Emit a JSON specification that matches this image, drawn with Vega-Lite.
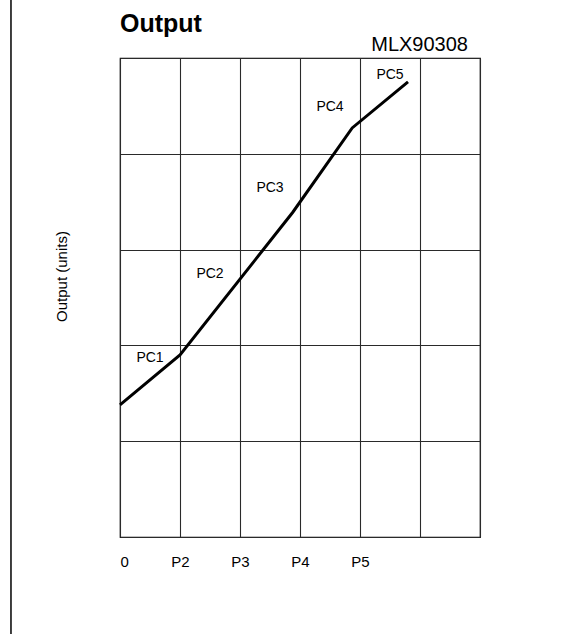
{
  "$schema": "https://vega.github.io/schema/vega-lite/v6.json",
  "width": 360,
  "height": 479,
  "autosize": {"type": "none"},
  "padding": {"left": 120, "top": 58, "right": 104, "bottom": 97},
  "background": "white",
  "config": {
    "font": "Liberation Sans",
    "view": {"stroke": "#000000", "strokeWidth": 1.2},
    "axis": {"gridColor": "#2a2a2a", "gridOpacity": 1, "gridWidth": 1.1}
  },
  "datasets": {
    "curve": [
      {"x": 0, "y": 1.38},
      {"x": 1, "y": 1.9},
      {"x": 2.88, "y": 3.39},
      {"x": 3.87, "y": 4.27},
      {"x": 4.8, "y": 4.75}
    ],
    "labels": [
      {"x": 0.5, "y": 1.87, "label": "PC1"},
      {"x": 1.5, "y": 2.75, "label": "PC2"},
      {"x": 2.5, "y": 3.64, "label": "PC3"},
      {"x": 3.5, "y": 4.49, "label": "PC4"},
      {"x": 4.5, "y": 4.82, "label": "PC5"}
    ],
    "header": [
      {"x": 5.8, "y": 5.073, "label": "MLX90308"}
    ],
    "heading": [
      {"x": 0, "y": 5.271, "label": "Output"}
    ],
    "border": [
      {"x": -1.817, "y": 5.7, "y2": -1.1}
    ]
  },
  "layer": [
    {
      "data": {"name": "curve"},
      "mark": {"type": "line", "color": "#000000", "strokeWidth": 3, "strokeJoin": "miter"},
      "encoding": {
        "x": {
          "field": "x", "type": "quantitative",
          "scale": {"domain": [0, 6], "nice": false, "zero": false},
          "axis": {
            "title": null,
            "values": [0, 1, 2, 3, 4, 5, 6],
            "labelExpr": "datum.value == 0 ? '0' : (datum.value <= 4 ? 'P' + (datum.value + 1) : '')",
            "ticks": false,
            "domain": false,
            "labelFontSize": 15,
            "labelColor": "#000000",
            "labelPadding": 17,
            "labelFont": "Liberation Sans",
            "grid": true
          }
        },
        "y": {
          "field": "y", "type": "quantitative",
          "scale": {"domain": [0, 5], "nice": false, "zero": false},
          "axis": {
            "title": "Output (units)",
            "values": [0, 1, 2, 3, 4, 5],
            "labels": false,
            "ticks": false,
            "domain": false,
            "grid": true,
            "titleFontSize": 15,
            "titleFontWeight": "normal",
            "titleFont": "Liberation Sans",
            "titleColor": "#000000",
            "titleAngle": -90,
            "titleAlign": "center",
            "titleBaseline": "middle",
            "titleX": -59,
            "titleY": 218
          }
        }
      }
    },
    {
      "data": {"name": "labels"},
      "mark": {"type": "text", "fontSize": 14, "color": "#000000", "align": "center", "baseline": "middle", "font": "Liberation Sans"},
      "encoding": {
        "x": {"field": "x", "type": "quantitative"},
        "y": {"field": "y", "type": "quantitative"},
        "text": {"field": "label"}
      }
    },
    {
      "data": {"name": "header"},
      "mark": {"type": "text", "fontSize": 20, "color": "#000000", "align": "right", "baseline": "alphabetic", "font": "Liberation Sans"},
      "encoding": {
        "x": {"field": "x", "type": "quantitative"},
        "y": {"field": "y", "type": "quantitative"},
        "text": {"field": "label"}
      }
    },
    {
      "data": {"name": "heading"},
      "mark": {"type": "text", "fontSize": 25, "fontWeight": "bold", "color": "#000000", "align": "left", "baseline": "alphabetic", "font": "Liberation Sans"},
      "encoding": {
        "x": {"field": "x", "type": "quantitative"},
        "y": {"field": "y", "type": "quantitative"},
        "text": {"field": "label"}
      }
    },
    {
      "data": {"name": "border"},
      "mark": {"type": "rule", "color": "#000000", "strokeWidth": 1.5},
      "encoding": {
        "x": {"field": "x", "type": "quantitative"},
        "y": {"field": "y", "type": "quantitative"},
        "y2": {"field": "y2"}
      }
    }
  ]
}
